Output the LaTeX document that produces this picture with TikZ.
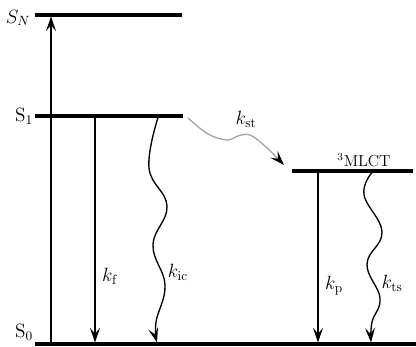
\documentclass[tikz,border=0pt]{standalone}
\usetikzlibrary{arrows.meta}
\begin{document}
\begin{tikzpicture}[x=0.75pt,y=-0.75pt,
  level/.style={line width=2.3pt},
  trans/.style={line width=1pt,-{Stealth[length=11pt,width=7.5pt,inset=4.5pt]}},
  lab/.style={inner sep=0pt,font=\fontsize{14}{16}\selectfont}]
\useasboundingbox (0,0) rectangle (416,346);

% energy levels
\coordinate (SNa) at (35,15);   \coordinate (SNb) at (182,15);
\coordinate (S1a) at (35,116);  \coordinate (S1b) at (183,116);
\coordinate (S0a) at (35,344);  \coordinate (S0b) at (416,344);
\coordinate (Ta)  at (292,171); \coordinate (Tb)  at (413,171);
\draw[level] (SNa) -- (SNb);
\draw[level] (S1a) -- (S1b);
\draw[level] (S0a) -- (S0b);
\draw[level] (Ta) -- (Tb);

% level labels
\node[lab] (lSN) at (18,18) {$S_N$};
\node[lab] (lS1) at (24,116) {$\mathrm{S}_1$};
\node[lab] (lS0) at (24,332) {$\mathrm{S}_0$};
\node[lab,font=\fontsize{12}{14}\selectfont] (lT) at (364,160) {\textsuperscript{3}MLCT};

% absorption
\coordinate (abs0) at (51,343);
\coordinate (abs1) at (51,16.5);
\draw[trans] (abs0) -- (abs1);

% fluorescence
\coordinate (f0) at (95,117);
\coordinate (f1) at (95,342.5);
\draw[trans] (f0) -- (f1);
\node[lab] (lkf) at (110,276) {$k_{\mathrm{f}}$};

% internal conversion
\draw[trans] plot[smooth,tension=0.7] coordinates
  {(158,117.5) (149,168) (167,206) (153,245) (165,285) (156,322) (157,342.5)};
\node[lab] (lkic) at (178,272) {$k_{\mathrm{ic}}$};

% intersystem crossing
\draw[line width=1pt,gray!70,-{Stealth[black,length=11pt,width=7.5pt,inset=4.5pt]}]
  plot[smooth,tension=0.6] coordinates
  {(188,118) (208,134) (227,140) (238,136) (250,135) (266,147) (284,165)};
\node[lab] (lkst) at (246,119) {$k_{\mathrm{st}}$};

% phosphorescence
\coordinate (p0) at (318,172);
\coordinate (p1) at (318,342.5);
\draw[trans] (p0) -- (p1);
\node[lab] (lkp) at (334,286) {$k_{\mathrm{p}}$};

% non-radiative decay of the triplet
\draw[trans] plot[smooth,tension=0.7] coordinates
  {(372,172.5) (364,195) (382,232) (367,264) (380,298) (372,322) (371,342.5)};
\node[lab] (lkts) at (392,283) {$k_{\mathrm{ts}}$};
\end{tikzpicture}
\end{document}
